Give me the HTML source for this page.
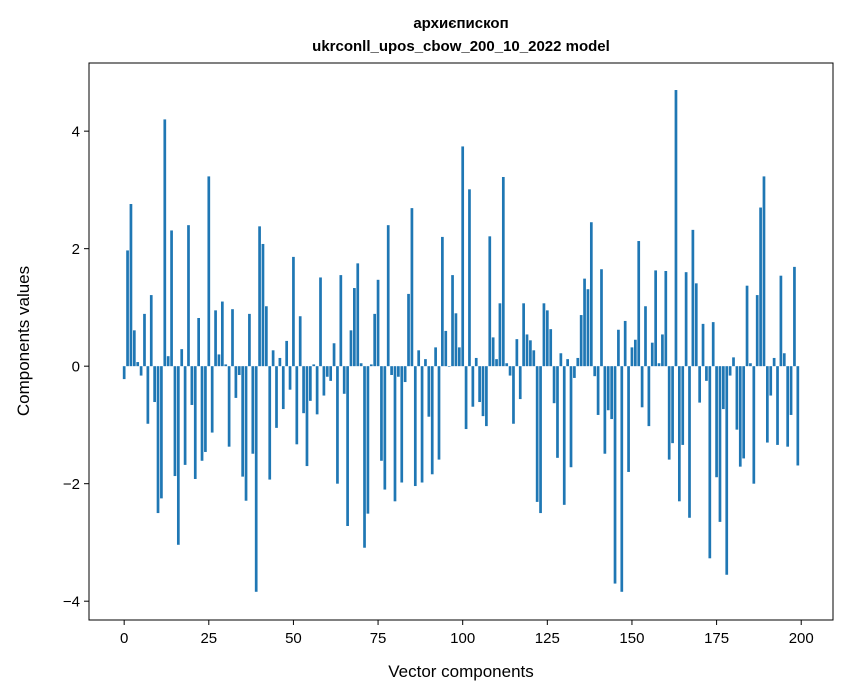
<!DOCTYPE html>
<html><head><meta charset="utf-8">
<style>
html,body{margin:0;padding:0;background:#fff;}
svg{display:block;font-family:"Liberation Sans","DejaVu Sans",sans-serif;}
</style></head>
<body>
<svg id="chart" width="847" height="696" viewBox="0 0 847 696" xmlns="http://www.w3.org/2000/svg">
<rect x="0" y="0" width="847" height="696" fill="#fff"/>
<text x="461" y="28" text-anchor="middle" font-size="15" font-weight="bold">архиєпископ</text>
<text x="461" y="51" text-anchor="middle" font-size="15" font-weight="bold">ukrconll_upos_cbow_200_10_2022 model</text>
<g id="bars"></g>
<g id="xticks"></g>
<g id="yticks"></g>
<rect x="89" y="63" width="744" height="557" fill="none" stroke="#000" stroke-width="1"/>
<text x="461" y="677" text-anchor="middle" font-size="17">Vector components</text>
<text transform="translate(29,341) rotate(-90)" text-anchor="middle" font-size="17">Components values</text>
</svg>
<script>
const values = [-0.22,1.97,2.76,0.61,0.07,-0.16,0.89,-0.98,1.21,-0.61,
-2.5,-2.25,4.2,0.17,2.31,-1.87,-3.04,0.29,-1.68,2.4,
-0.66,-1.92,0.82,-1.61,-1.46,3.23,-1.13,0.95,0.2,1.1,
0.03,-1.37,0.97,-0.54,-0.15,-1.88,-2.29,0.89,-1.49,-3.84,
2.38,2.08,1.02,-1.93,0.27,-1.05,0.14,-0.73,0.43,-0.4,
1.86,-1.33,0.85,-0.8,-1.7,-0.59,0.03,-0.82,1.51,-0.5,
-0.18,-0.25,0.39,-2.0,1.55,-0.47,-2.72,0.61,1.33,1.75,
0.05,-3.09,-2.51,0.03,0.89,1.47,-1.61,-2.1,2.4,-0.15,
-2.3,-0.18,-1.98,-0.27,1.23,2.69,-2.04,0.27,-1.98,0.12,
-0.86,-1.84,0.32,-1.59,2.2,0.6,-0.01,1.55,0.9,0.32,
3.74,-1.07,3.01,-0.69,0.14,-0.61,-0.85,-1.02,2.21,0.49,
0.12,1.07,3.22,0.05,-0.16,-0.98,0.46,-0.56,1.07,0.54,
0.44,0.27,-2.31,-2.5,1.07,0.95,0.63,-0.63,-1.56,0.22,
-2.36,0.12,-1.72,-0.2,0.14,0.87,1.49,1.31,2.45,-0.17,
-0.83,1.65,-1.49,-0.75,-0.9,-3.7,0.62,-3.84,0.77,-1.8,
0.32,0.45,2.13,-0.7,1.02,-1.02,0.4,1.63,0.05,0.54,
1.62,-1.59,-1.31,4.7,-2.3,-1.34,1.6,-2.58,2.32,1.41,
-0.62,0.72,-0.25,-3.27,0.75,-1.89,-2.65,-0.73,-3.55,-0.16,
0.15,-1.08,-1.71,-1.57,1.37,0.05,-2.0,1.21,2.7,3.23,
-1.3,-0.5,0.14,-1.34,1.54,0.22,-1.37,-0.83,1.69,-1.69];
const xTicks = [0,25,50,75,100,125,150,175,200];
const yTicks = [-4,-2,0,2,4];

const NS = "http://www.w3.org/2000/svg";
const L=89,R=833,T=63,B=620;
const xMin=-10.39,xMax=209.39,yMin=-4.32,yMax=5.16;
function sx(v){return L+(v-xMin)/(xMax-xMin)*(R-L);}
function sy(v){return B-(v-yMin)/(yMax-yMin)*(B-T);}

const bars=document.getElementById('bars');
values.forEach((v,i)=>{
  const r=document.createElementNS(NS,'rect');
  const x0=sx(i-0.4),x1=sx(i+0.4);
  const y0=sy(Math.max(v,0)),y1=sy(Math.min(v,0));
  r.setAttribute('x',x0);r.setAttribute('width',x1-x0);
  r.setAttribute('y',y0);r.setAttribute('height',Math.max(y1-y0,0.01));
  r.setAttribute('fill','#1f77b4');
  
  
  bars.appendChild(r);
});

const xg=document.getElementById('xticks');
xTicks.forEach(t=>{
  const x=sx(t);
  const l=document.createElementNS(NS,'line');
  l.setAttribute('x1',x);l.setAttribute('x2',x);l.setAttribute('y1',B);l.setAttribute('y2',B+5);
  l.setAttribute('stroke','#000');
  
  
  xg.appendChild(l);
  const tx=document.createElementNS(NS,'text');
  tx.setAttribute('x',x);tx.setAttribute('y',B+23);tx.setAttribute('text-anchor','middle');tx.setAttribute('font-size','15');
  tx.textContent=String(t);
  
  
  xg.appendChild(tx);
});
const yg=document.getElementById('yticks');
yTicks.forEach(t=>{
  const y=sy(t);
  const l=document.createElementNS(NS,'line');
  l.setAttribute('x1',L-5);l.setAttribute('x2',L);l.setAttribute('y1',y);l.setAttribute('y2',y);
  l.setAttribute('stroke','#000');
  
  
  yg.appendChild(l);
  const tx=document.createElementNS(NS,'text');
  tx.setAttribute('x',L-9);tx.setAttribute('y',y+5.5);tx.setAttribute('text-anchor','end');tx.setAttribute('font-size','15');
  tx.textContent=t<0?('\u2212'+Math.abs(t)):String(t);
  
  
  yg.appendChild(tx);
});
</script>
</body></html>
